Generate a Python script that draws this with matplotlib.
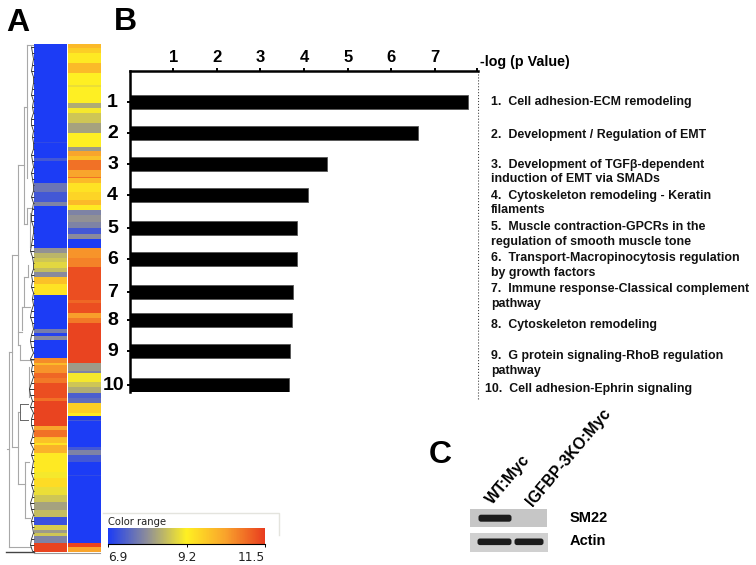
import matplotlib
matplotlib.use("Agg")
import matplotlib.pyplot as plt
from matplotlib.colors import LinearSegmentedColormap, Normalize
from matplotlib.cm import ScalarMappable
from matplotlib.patches import FancyBboxPatch, Rectangle
import numpy as np

plt.rcParams['font.family'] = ['Liberation Sans', 'DejaVu Sans']

W, H = 756, 565

# panel B
pathways = [
    "1.  Cell adhesion-ECM remodeling",
    "2.  Development / Regulation of EMT",
    "3.  Development of TGF\u03b2-dependent\ninduction of EMT via SMADs",
    "4.  Cytoskeleton remodeling - Keratin\nfilaments",
    "5.  Muscle contraction-GPCRs in the\nregulation of smooth muscle tone",
    "6.  Transport-Macropinocytosis regulation\nby growth factors",
    "7.  Immune response-Classical complement\npathway",
    "8.  Cytoskeleton remodeling",
    "9.  G protein signaling-RhoB regulation\npathway",
    "10.  Cell adhesion-Ephrin signaling",
]
log_p = [7.77, 6.62, 4.52, 4.08, 3.83, 3.84, 3.75, 3.73, 3.67, 3.65]
bar_labels = ["1", "2", "3", "4", "5", "6", "7", "8", "9", "10"]
x_ticks = [1, 2, 3, 4, 5, 6, 7]

# panel A, expression bands: edges along the rows and value of each band
col1_edges = [44, 142, 143, 158, 161, 183, 192, 202, 206, 248, 253, 258, 262, 268, 272, 277,
              284, 295, 329, 333, 336, 340, 358, 363, 365, 373, 378, 383, 398, 401, 426, 430,
              437, 438, 443, 445, 453, 472, 478, 487, 495, 502, 510, 517, 525, 530, 533, 536, 543, 552]
col1_vals = [6.9, 7.1, 6.9, 7.3, 6.9, 7.7, 7.3, 7.9, 6.9, 8.1, 8.5, 8.7, 8.9, 8.6, 8.0, 9.9,
             9.4, 6.9, 7.8, 7.0, 8.0, 6.9, 10.6, 10.0, 10.5, 11.0, 10.8, 11.3, 10.9, 11.4, 10.3,
             10.9, 10.0, 9.9, 9.4, 10.1, 9.3, 9.1, 9.5, 9.0, 8.7, 8.3, 8.6, 7.2, 8.8, 8.2, 8.7, 7.9, 11.4]
col2_edges = [44, 48, 53, 63, 73, 85, 87, 103, 108, 113, 123, 133, 147, 151, 156, 160, 170, 177, 178,
              183, 192, 200, 205, 210, 215, 222, 228, 234, 239, 248, 258, 267, 300, 303, 313, 318, 323,
              363, 371, 373, 382, 387, 393, 398, 403, 413, 416, 420, 421, 447, 450, 455, 462, 475, 476, 543, 547, 552]
col2_vals = [10.0, 9.7, 9.3, 10.0, 9.2, 9.0, 9.2, 8.4, 9.1, 8.7, 8.3, 9.2, 8.2, 10.3, 9.9, 10.9, 10.3, 10.9,
             10.0, 9.4, 9.6, 10.0, 9.3, 7.9, 8.1, 7.9, 7.3, 8.0, 6.9, 10.5, 10.7, 11.3, 11.0, 11.3, 10.4, 10.8,
             11.4, 8.2, 7.9, 9.1, 8.7, 8.4, 7.4, 7.6, 9.7, 9.3, 6.9, 7.3, 6.9, 7.3, 7.9, 7.3, 6.9, 7.1, 6.9, 11.4, 10.3]

# dendrogram
tree_segments = [
    (9, 352, 9, 547), (9, 352, 12, 352), (9, 547, 30, 547), (7, 449, 9, 449),
    (12, 255, 12, 447), (12, 255, 17.5, 255), (12, 447, 18.3, 447),
    (17.5, 165, 17.5, 345), (17.5, 165, 23.5, 165), (17.5, 345, 19.5, 345),
    (23.5, 107, 23.5, 224), (23.5, 107, 27, 107), (23.5, 224, 27, 224),
    (27, 45, 27, 178), (27, 45, 33, 45), (27, 208, 27, 224), (27, 208, 33, 208),
    (30, 213, 30, 247), (28, 265, 28, 277), (24, 277, 24, 306), (24, 277, 28, 277),
    (22, 307, 22, 330), (22, 307, 30, 307), (17.5, 332, 22, 332), (19.5, 345, 19.5, 360),
    (19.5, 360, 33, 360), (29, 367, 29, 397), (18.3, 412, 18.3, 484), (18.3, 412, 20, 412),
    (18.3, 484, 25, 484), (25, 462, 25, 518), (25, 462, 29, 462), (25, 518, 30, 518),
]
dark_segments = [(20, 404, 20, 420), (20, 404, 28, 404), (20, 420, 28, 420)]
leaf_reach = [31, 32, 33, 32, 31, 33, 33, 32, 31, 33, 32, 33, 31, 31, 33, 32, 33, 33, 31, 32, 33, 31, 32, 33,
              33, 31, 33, 32, 31, 31, 33, 33, 32, 31, 30, 32, 33, 33, 31, 32, 31, 33, 32, 33, 31, 30, 32, 33,
              31, 30, 31, 33, 30, 32, 31, 33, 31, 29, 30, 32, 30, 33, 31, 31, 33, 32, 30, 33, 31, 33, 32, 31,
              33, 31, 33, 32, 30, 31, 33, 31, 32, 33, 31, 30, 32]

# colour scale
scale_min, scale_mid, scale_max = 6.9, 9.2, 11.5
scale_colors = ["#1c3cf5", "#8e8e98", "#fff022", "#f9a22c", "#e83c1f"]

# panel C
lanes = ["WT:Myc", "IGFBP-3KO:Myc"]
blot_names = ["SM22", "Actin"]

fig = plt.figure(figsize=(W / 100, H / 100), dpi=100)
bg = fig.add_axes([0, 0, 1, 1])
bg.set_xlim(0, W)
bg.set_ylim(H, 0)
bg.axis("off")

cmap = LinearSegmentedColormap.from_list("range", scale_colors)
norm = Normalize(scale_min, scale_max)

bg.pcolormesh([34, 67], col1_edges, np.array(col1_vals)[:, None], cmap=cmap, norm=norm)
bg.pcolormesh([67.6, 100.5], col2_edges, np.array(col2_vals)[:, None], cmap=cmap, norm=norm)

for x1, y1, x2, y2 in tree_segments:
    bg.plot([x1, x2], [y1, y2], color="#a8a8a8", lw=0.8)
for x1, y1, x2, y2 in dark_segments:
    bg.plot([x1, x2], [y1, y2], color="#666666", lw=0.7)
leaf_y = np.arange(len(leaf_reach)) * 6 + 47
bg.hlines(leaf_y, leaf_reach, 34, color="#333333", lw=0.7)
bg.plot(np.array(leaf_reach) + 0.5, leaf_y, color="#333333", lw=0.6)
bg.plot([6, 34], [552, 552], color="#444444", lw=1)
bg.plot([34, 100], [552.5, 552.5], color="#999999", lw=0.8)

for letter, x, y, size in [("A", 6, 31, 23), ("B", 114, 30.5, 23), ("C", 429, 463, 23)]:
    bg.text(x, y, letter, fontsize=size, fontweight="bold", va="baseline")

# bar chart
ax = fig.add_axes([129.7 / W, 1 - 392 / H, (478 - 129.7) / W, (392 - 71) / H])
ax.set_xlim(0, 7.99)
ax.set_ylim(392, 71)
bar_y = [102.3, 132.7, 163.7, 195, 227.7, 258.7, 291.7, 320, 351, 385]
ax.barh(bar_y, log_p, height=14, color="black", edgecolor="#555555", lw=0.6)
ax.xaxis.tick_top()
ax.set_xticks(x_ticks)
ax.set_xticks([7.97], minor=True)
ax.set_xticklabels(x_ticks, fontsize=12, fontweight="bold")
ax.tick_params(axis="x", which="both", length=2.5, width=1.4, pad=1.5)
ax.set_yticks(bar_y)
ax.set_yticklabels([])
ax.tick_params(axis="y", length=2.5, width=1.4)
for lab, y in zip(bar_labels, bar_y):
    off = -4 if lab == "10" else -8.5
    ax.annotate(lab, (0, y), xytext=(off, -0.5), textcoords="offset points", ha="right", va="center",
                fontsize=14, fontweight="bold")
ax.spines["right"].set_visible(False)
ax.spines["bottom"].set_visible(False)
ax.spines["top"].set_linewidth(1.8)
ax.spines["left"].set_linewidth(1.8)

bg.plot([478, 478], [71, 400], color="#444444", lw=0.8, ls=":")
bg.text(480, 62, "-log (p Value)", fontsize=10.3, fontweight="bold", va="center")

text_y = [102, 135, 172, 203, 234.5, 265.5, 296.5, 325, 363.5, 389]
for i, (name, y) in enumerate(zip(pathways, text_y)):
    bg.text(485 if i == 9 else 491, y, name, fontsize=8.9, fontweight="bold", va="center",
            linespacing=1.3, color="#111111")

# colour range legend
bg.plot([103, 279, 279], [513, 513, 535], color="#e4e4de", lw=1)
bg.text(108, 522, "Color range", fontsize=7.2, family="DejaVu Sans", va="center", color="#222222")
cax = fig.add_axes([108 / W, 1 - 544 / H, 157 / W, 16 / H])
cb = fig.colorbar(ScalarMappable(norm=norm, cmap=cmap), cax=cax, orientation="horizontal",
                  ticks=[scale_min, scale_mid, scale_max])
cb.outline.set_visible(False)
cb.ax.spines["bottom"].set_visible(True)
cb.ax.spines["bottom"].set_linewidth(0.8)
cb.ax.tick_params(length=2, width=0.7, pad=3, labelsize=8.8)
labs = cb.ax.set_xticklabels(["6.9", "9.2", "11.5"], family="DejaVu Sans", color="#222222")
labs[0].set_ha("left")
labs[2].set_ha("right")

# western blot
for x, y, w, h, c in [(470, 509, 77, 18, "#c6c6c6"), (470, 533, 78, 19, "#d0d0d0")]:
    bg.add_patch(Rectangle((x, y), w, h, color=c, lw=0))
for x, y, w, h in [(480, 516.2, 30, 4), (479, 540, 31, 3.6), (516, 540, 26, 3.6)]:
    bg.add_patch(FancyBboxPatch((x, y), w, h, boxstyle="round,pad=1.5,rounding_size=2.5", color="#1c1c1c", lw=0))

bg.text(493, 505, lanes[0], fontsize=11.4, fontweight="bold", rotation=50, rotation_mode="anchor", ha="left", va="baseline")
bg.text(533, 507, lanes[1], fontsize=11.4, fontweight="bold", rotation=50, rotation_mode="anchor", ha="left", va="baseline")
bg.text(570, 517.5, blot_names[0], fontsize=10.5, fontweight="bold", va="center")
bg.text(570, 541, blot_names[1], fontsize=10.5, fontweight="bold", va="center")

fig.savefig("out.png", dpi=100)
